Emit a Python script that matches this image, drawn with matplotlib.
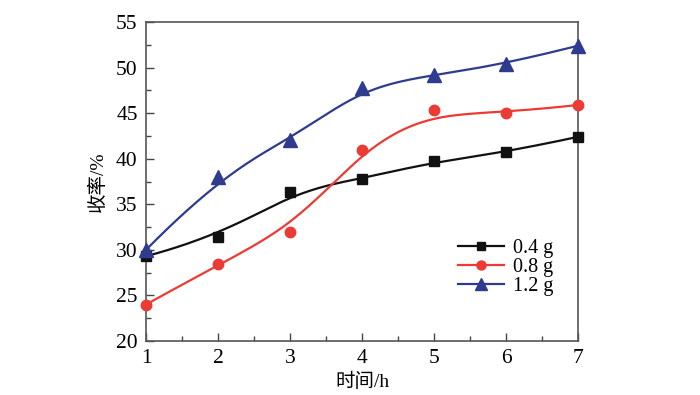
import numpy as np
import matplotlib
matplotlib.use("Agg")
import matplotlib.pyplot as plt
from matplotlib.ticker import MultipleLocator

plt.rcParams['font.family'] = ['Liberation Serif', 'Noto Sans CJK SC']
plt.rcParams['mathtext.fontset'] = 'stix'

hours = [1, 2, 3, 4, 5, 6, 7]
yield_04 = [29.3, 31.4, 36.4, 37.8, 39.7, 40.7, 42.4]
yield_08 = [24.0, 28.4, 32.0, 41.0, 45.3, 45.0, 45.9]
yield_12 = [30.0, 38.0, 42.0, 47.8, 49.2, 50.4, 52.4]
labels = ['0.4 g', '0.8 g', '1.2 g']


def bspline(xs, ys, n=300, k=3):
    # clamped cubic B-spline with the data points as control points
    P = np.column_stack([xs, ys]).astype(float)
    m = len(P)
    knots = np.concatenate([np.zeros(k), np.arange(m - k + 1), np.full(k, m - k)]).astype(float)
    ts = np.linspace(0, m - k, n)
    out = []
    for t in ts:
        if t >= knots[-1]:
            out.append(P[-1])
            continue
        N = np.array([1.0 if knots[i] <= t < knots[i + 1] else 0.0 for i in range(len(knots) - 1)])
        for d in range(1, k + 1):
            Nn = np.zeros(len(knots) - 1 - d)
            for i in range(len(Nn)):
                a = 0.0
                if knots[i + d] != knots[i]:
                    a += (t - knots[i]) / (knots[i + d] - knots[i]) * N[i]
                if knots[i + d + 1] != knots[i + 1]:
                    a += (knots[i + d + 1] - t) / (knots[i + d + 1] - knots[i + 1]) * N[i + 1]
                Nn[i] = a
            N = Nn
        out.append(N @ P)
    out = np.array(out)
    return out[:, 0], out[:, 1]


fig = plt.figure(figsize=(7, 3.95), dpi=100)
ax = fig.add_axes([146 / 700, 1 - 341 / 395, 432 / 700, 319 / 395])

series = [
    (yield_04, '#111111', 's', 6.5),
    (yield_08, '#ec3a34', 'o', 7.5),
    (yield_12, '#2e3b8f', '^', 9.5),
]
for (ys, c, mk, ms), lab in zip(series, labels):
    sx, sy = bspline(hours, ys)
    ax.plot(sx, sy, color=c, lw=1.6, zorder=2)
    ax.plot(hours, ys, ls='none', marker=mk, color=c, ms=ms, zorder=3, clip_on=False)
    ax.plot([], [], color=c, lw=1.6, marker=mk, ms=ms - 1, label=lab)

ax.set_xlim(1, 7)
ax.set_ylim(20, 55)
ax.xaxis.set_major_locator(MultipleLocator(1))
ax.xaxis.set_minor_locator(MultipleLocator(0.5))
ax.yaxis.set_major_locator(MultipleLocator(5))
ax.yaxis.set_minor_locator(MultipleLocator(2.5))
ax.tick_params(which='both', direction='in', top=False, right=False,
               labelsize=15.5, color='#444444', width=1.0, pad=6)
ax.tick_params(which='major', length=6)
ax.tick_params(which='minor', length=3.5)
for s in ax.spines.values():
    s.set_color('#555555')
    s.set_linewidth(1.2)

ax.set_xlabel('时间/h', fontsize=14, labelpad=3)
ax.set_ylabel('收率/%', fontsize=14, labelpad=7)

ax.legend(loc='upper left', bbox_to_anchor=(0.69, 0.365), frameon=False,
          fontsize=14.5, handlelength=2.3, handletextpad=0.4, labelspacing=0.0,
          borderpad=0.2)

fig.savefig('out.png', dpi=100)
